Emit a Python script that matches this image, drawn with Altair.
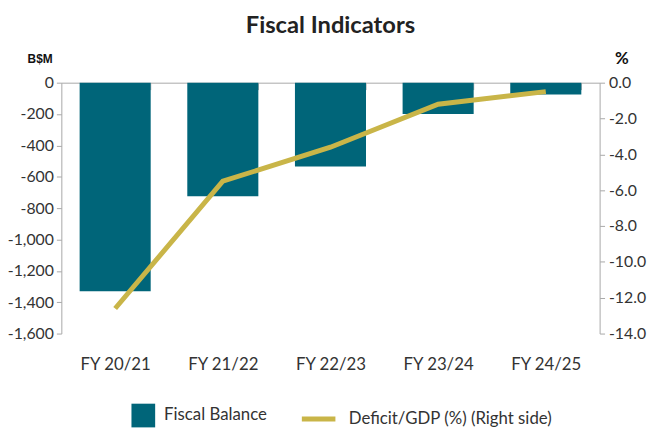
import altair as alt
import pandas as pd

categories = ["FY 20/21", "FY 21/22", "FY 22/23", "FY 23/24", "FY 24/25"]
fiscal_balance = [-1330, -725, -535, -200, -75]
deficit_gdp = [-12.6, -5.5, -3.6, -1.2, -0.5]
left_ticks = [-1600, -1400, -1200, -1000, -800, -600, -400, -200, 0]
right_ticks = [-14, -12, -10, -8, -6, -4, -2, 0]

df = pd.DataFrame({"cat": categories, "balance": fiscal_balance, "deficit": deficit_gdp})

W, H = 545, 254
FONT = "Lato"
TEAL = "#006579"
GOLD = "#C9B548"
AX = "#a8a8a8"
TXT = "#333333"

x = alt.X(
    "cat:N", sort=categories, title=None,
    scale=alt.Scale(paddingInner=0.34, paddingOuter=0.17),
    axis=alt.Axis(orient="bottom", offset=-H, domain=True, domainColor=AX,
                  ticks=True, tickBand="extent", tickSize=7, tickColor=AX,
                  labelAngle=0, labelPadding=270, labelFont=FONT, labelFontSize=17,
                  labelColor=TXT, grid=False),
)

bars = alt.Chart(df).transform_calculate(series="'Fiscal Balance'").mark_bar().encode(
    x=x,
    y=alt.Y("balance:Q", scale=alt.Scale(domain=[-1600, 0], nice=False, zero=False),
            axis=alt.Axis(values=left_ticks, title="B$M", titleAngle=0, titleX=-22, titleY=-24,
                          titleAlign="center", titleBaseline="middle", titleFont="Liberation Sans",
                          titleFontSize=12, titleFontWeight="bold", titleColor="#111",
                          labelExpr="replace(format(datum.value, ','), '−', '-')",
                          labelFont=FONT, labelFontSize=16, labelColor=TXT, labelPadding=3,
                          domainColor=AX, tickColor=AX, tickSize=5, grid=False)),
    color=alt.Color("series:N", scale=alt.Scale(domain=["Fiscal Balance"], range=[TEAL]),
                    legend=alt.Legend(title=None, orient="none", legendX=71, legendY=325,
                                      symbolType="square", symbolSize=576, symbolStrokeWidth=0,
                                      symbolOpacity=1, labelFont=FONT, labelFontSize=17,
                                      labelColor=TXT, labelOffset=9, labelLimit=400)),
)

line = alt.Chart(df).transform_calculate(series2="'Deficit/GDP (%) (Right side)'").mark_line(strokeWidth=5).encode(
    x=x,
    y=alt.Y("deficit:Q", scale=alt.Scale(domain=[-14, 0], nice=False, zero=False),
            axis=alt.Axis(orient="right", values=right_ticks, title="%", titleAngle=0, titleX=22, titleY=-24,
                          titleAlign="center", titleBaseline="middle", titleFont=FONT,
                          titleFontSize=17, titleFontWeight="bold", titleColor="#111",
                          labelExpr="replace(format(datum.value, '.1f'), '−', '-')",
                          labelFont=FONT, labelFontSize=16, labelColor=TXT, labelPadding=4,
                          domainColor=AX, tickColor=AX, tickSize=5, grid=False)),
    stroke=alt.Stroke("series2:N", scale=alt.Scale(domain=["Deficit/GDP (%) (Right side)"], range=[GOLD]),
                      legend=alt.Legend(title=None, orient="none", legendX=241, legendY=321,
                                        symbolType="stroke", symbolSize=1156, symbolStrokeWidth=5,
                                        labelFont=FONT, labelFontSize=17, labelColor=TXT, labelOffset=11,
                                        labelLimit=400)),
)

chart = alt.layer(bars, line).resolve_scale(y="independent").properties(
    width=W, height=H,
    title=alt.TitleParams("Fiscal Indicators", font=FONT, fontSize=24, fontWeight="bold",
                          color="#222", anchor="middle", offset=12),
    autosize=alt.AutoSizeParams(type="none"),
    padding={"left": 54, "top": 73, "right": 50, "bottom": 93},
).configure_view(stroke=None)

chart.save("out.html", embed_options={"renderer": "svg", "actions": False})
